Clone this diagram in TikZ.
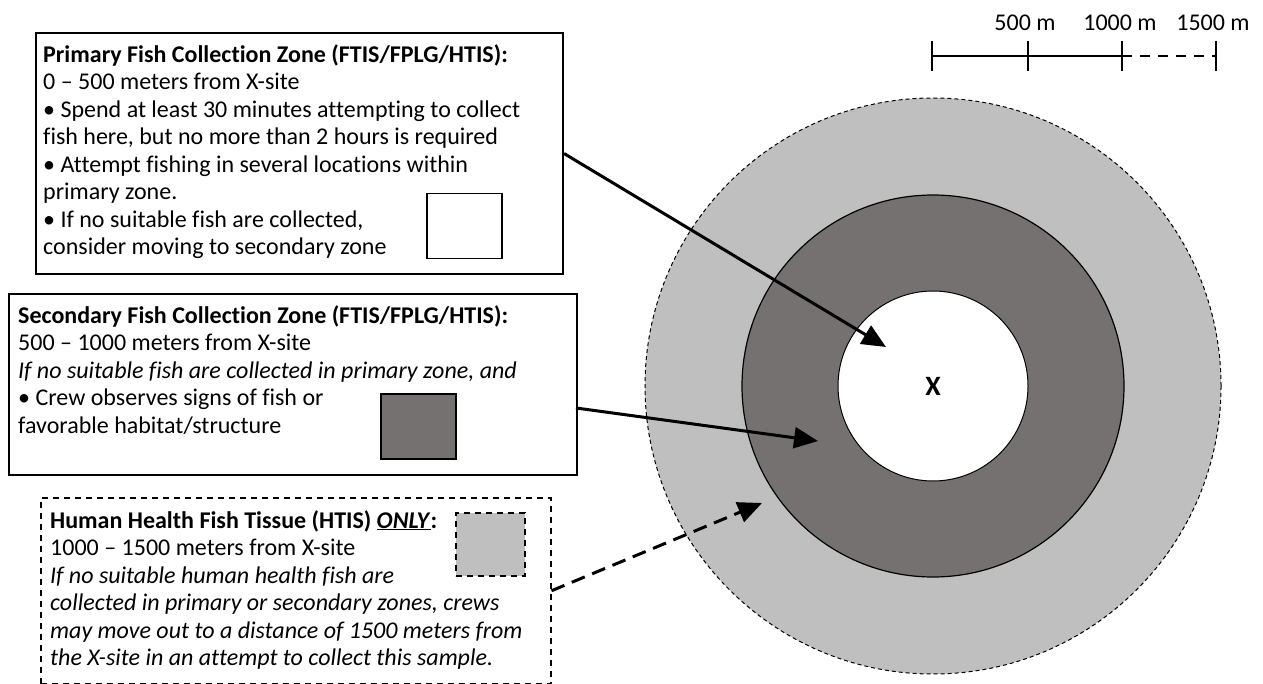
\documentclass[tikz,border=0pt]{standalone}
\usepackage{fontspec}
\setmainfont{Carlito}[Ligatures=NoCommon]
\usepackage{tikz}
\usetikzlibrary{arrows.meta,positioning,shapes}
\definecolor{ringdark}{HTML}{767171}
\definecolor{ringlight}{HTML}{BFBFBF}

\begin{document}
\begin{tikzpicture}[x=1pt,y=-1pt,font=\fontsize{24}{27.5}\selectfont,
  zonebox/.style={draw, rectangle, line width=2pt, anchor=north west, inner sep=0pt},
  zonetext/.style={anchor=north west, align=left, inner sep=0pt},
  swatch/.style={draw, rectangle, line width=1.5pt, minimum width=75pt, minimum height=65pt, anchor=north west},
  pointer/.style={line width=3pt, -{Triangle[length=24pt,width=21pt]}},
  scalebar/.style={line width=2.5pt}]
  \useasboundingbox (0,0) rectangle (1263,684);

  % rings round the X-site
  \node[circle, draw, dash pattern=on 4pt off 3pt, line width=1pt, fill=ringlight, minimum size=576pt] (outer) at (933,386) {};
  \node[circle, draw, line width=1.2pt, fill=ringdark, minimum size=382pt] (middle) at (outer) {};
  \node[circle, draw, line width=1pt, fill=white, minimum size=190pt] (inner) at (outer) {};
  \node[font=\fontsize{28}{30}\selectfont\bfseries] (site) at (inner) {X};

  % scale bar
  \coordinate (s0) at (932,56);
  \coordinate (s1) at (1028,56);
  \coordinate (s2) at (1122,56);
  \coordinate (s3) at (1216,56);
  \draw[scalebar] (s0) -- (s2);
  \draw[scalebar, dash pattern=on 10pt off 8pt] (s2) -- (s3);
  \foreach \p in {s0,s1,s2,s3}
    \draw[scalebar] ([yshift=15pt]\p) -- ([yshift=-15pt]\p);
  \node (m500) at ([yshift=33pt,xshift=-3pt]s1) {500 m};
  \node (m1000) at ([yshift=33pt,xshift=-2pt]s2) {1000 m};
  \node (m1500) at ([yshift=33pt,xshift=-3pt]s3) {1500 m};

  % zone boxes
  \node[zonebox, minimum width=527pt, minimum height=241pt] (primary) at (35,32) {};
  \node[zonebox, minimum width=568pt, minimum height=181pt] (secondary) at (8,293) {};
  \node[zonebox, line width=1.5pt, dash pattern=on 6pt off 5pt, minimum width=510pt, minimum height=186pt] (health) at (40,497) {};

  \node[zonetext] (primtext) at ([xshift=8pt,yshift=-12pt]primary.north west)
    {\textbf{Primary Fish Collection Zone (FTIS/FPLG/HTIS):}\\
     0 – 500 meters from X-site\\
     • Spend at least 30 minutes attempting to collect\\
     fish here, but no more than 2 hours is required\\
     • Attempt fishing in several locations within\\
     primary zone.\\
     • If no suitable fish are collected,\\
     consider moving to secondary zone};
  \node[zonetext] (sectext) at ([xshift=10pt,yshift=-12pt]secondary.north west)
    {\textbf{Secondary Fish Collection Zone (FTIS/FPLG/HTIS):}\\
     500 – 1000 meters from X-site\\
     \textit{If no suitable fish are collected in primary zone, and}\\
     • Crew observes signs of fish or\\
     favorable habitat/structure};
  \node[zonetext] (healthtext) at ([xshift=10pt,yshift=-13pt]health.north west)
    {\textbf{Human Health Fish Tissue (HTIS) \underline{\textit{ONLY}}:}\\
     1000 – 1500 meters from X-site\\
     \textit{If no suitable human health fish are}\\
     \textit{collected in primary or secondary zones, crews}\\
     \textit{may move out to a distance of 1500 meters from}\\
     \textit{the X-site in an attempt to collect this sample.}};

  % legend swatches
  \node[swatch, fill=white] (primkey) at (426,193) {};
  \node[swatch, fill=ringdark] (seckey) at (380,393) {};
  \node[swatch, fill=ringlight, dash pattern=on 6pt off 5pt, minimum width=69pt, minimum height=63pt] (healthkey) at (455,512) {};

  % pointers into the rings
  \coordinate (primtip) at (886,347);
  \coordinate (secfrom) at (576,408);
  \coordinate (sectip) at (818,441);
  \coordinate (healthtip) at (762,503);
  \path (primary.east) edge[pointer] (primtip)
        (secfrom) edge[pointer] (sectip)
        (health.east) edge[pointer, dash pattern=on 14pt off 8pt] (healthtip);
\end{tikzpicture}
\end{document}
